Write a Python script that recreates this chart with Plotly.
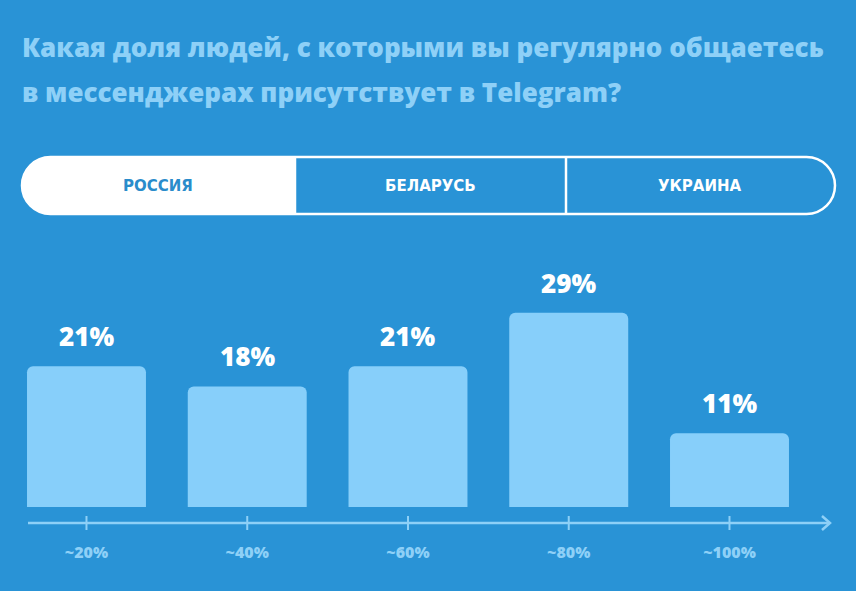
import plotly.graph_objects as go

# данные
categories = ["~20%", "~40%", "~60%", "~80%", "~100%"]
values = [21, 18, 21, 29, 11]
tabs = ["РОССИЯ", "БЕЛАРУСЬ", "УКРАИНА"]
title_lines = ["Какая доля людей, с которыми вы регулярно общаетесь",
               "в мессенджерах присутствует в Telegram?"]

W, H = 856, 591
BG = "#2993d6"
BAR = "#87cffa"
LIGHT = "#8ed0f7"


def px(x):
    return x / W


def py(y):
    return 1 - y / H


fig = go.Figure()

fig.add_trace(go.Bar(x=categories, y=values, width=0.74,
                     marker=dict(color=BAR, line=dict(width=0), cornerradius=6),
                     hoverinfo="skip"))

ann = []
for c, v in zip(categories, values):
    ann.append(dict(x=c, y=v, xref="x", yref="y", text=f"{v}%", showarrow=False,
                    yanchor="bottom", yshift=10,
                    font=dict(family="Open Sans", size=26, color="white", weight=800)))

# заголовок
for i, t in enumerate(title_lines):
    ann.append(dict(x=px(20), y=py(47 + 45 * i), xref="paper", yref="paper", text=t,
                    showarrow=False, xanchor="left", yanchor="middle",
                    font=dict(family="Open Sans", size=26, color=LIGHT, weight=800)))

# вкладки
tab_cx = [158, 430, 700]
for i, t in enumerate(tabs):
    ann.append(dict(x=px(tab_cx[i]), y=py(186), xref="paper", yref="paper", text=t,
                    showarrow=False, xanchor="center", yanchor="middle",
                    font=dict(family="DejaVu Sans", size=15, weight=700,
                              color="#2a8ccb" if i == 0 else "white")))

shapes = []
top, bot, r = 157, 214, 28.5
k = 0.5523 * r
cy = (top + bot) / 2


def P(x, y):
    return f"{px(x):.5f},{py(y):.5f}"


# белая активная вкладка
path = (f"M{P(295, top)} L{P(22 + r, top)} "
        f"C{P(22 + r - k, top)} {P(22, cy - k)} {P(22, cy)} "
        f"C{P(22, cy + k)} {P(22 + r - k, bot)} {P(22 + r, bot)} "
        f"L{P(295, bot)} Z")
shapes.append(dict(type="path", xref="paper", yref="paper", path=path,
                   fillcolor="white", line=dict(width=0)))
# контур
L, R = 22, 835
outline = (f"M{P(L + r, top)} L{P(R - r, top)} "
           f"C{P(R - r + k, top)} {P(R, cy - k)} {P(R, cy)} "
           f"C{P(R, cy + k)} {P(R - r + k, bot)} {P(R - r, bot)} "
           f"L{P(L + r, bot)} "
           f"C{P(L + r - k, bot)} {P(L, cy + k)} {P(L, cy)} "
           f"C{P(L, cy - k)} {P(L + r - k, top)} {P(L + r, top)} Z")
shapes.append(dict(type="path", xref="paper", yref="paper", path=outline,
                   line=dict(color="white", width=2.5)))
for xd in [295, 566]:
    shapes.append(dict(type="line", xref="paper", yref="paper",
                       x0=px(xd), x1=px(xd), y0=py(top), y1=py(bot),
                       line=dict(color="white", width=2.5)))

# ось со стрелкой
ay = 523
shapes.append(dict(type="line", xref="paper", yref="paper", x0=px(28), x1=px(830),
                   y0=py(ay), y1=py(ay), line=dict(color=LIGHT, width=2.5)))
shapes.append(dict(type="path", xref="paper", yref="paper",
                   path=f"M{P(822, ay - 7)} L{P(830, ay)} L{P(822, ay + 7)}",
                   line=dict(color=LIGHT, width=2.5)))
for c in categories:
    shapes.append(dict(type="line", xref="x", yref="paper", x0=c, x1=c,
                       y0=py(ay - 7), y1=py(ay + 7), line=dict(color=LIGHT, width=2)))

fig.update_layout(
    width=W, height=H,
    margin=dict(l=0, r=0, t=0, b=0),
    paper_bgcolor=BG, plot_bgcolor=BG,
    showlegend=False,
    annotations=ann, shapes=shapes,
    xaxis=dict(type="category", range=[-0.538, 4.787], showgrid=False, zeroline=False,
               showline=False, ticks="", anchor="free", position=py(ay),
               ticklabelstandoff=18, automargin=False, fixedrange=True,
               tickfont=dict(family="Open Sans", size=16, color=LIGHT, weight=800)),
    yaxis=dict(range=[-12.54, 75.67], visible=False, fixedrange=True),
)

fig.write_html("out.html", config={"displayModeBar": False},
               post_script="document.body.style.margin='0';")
